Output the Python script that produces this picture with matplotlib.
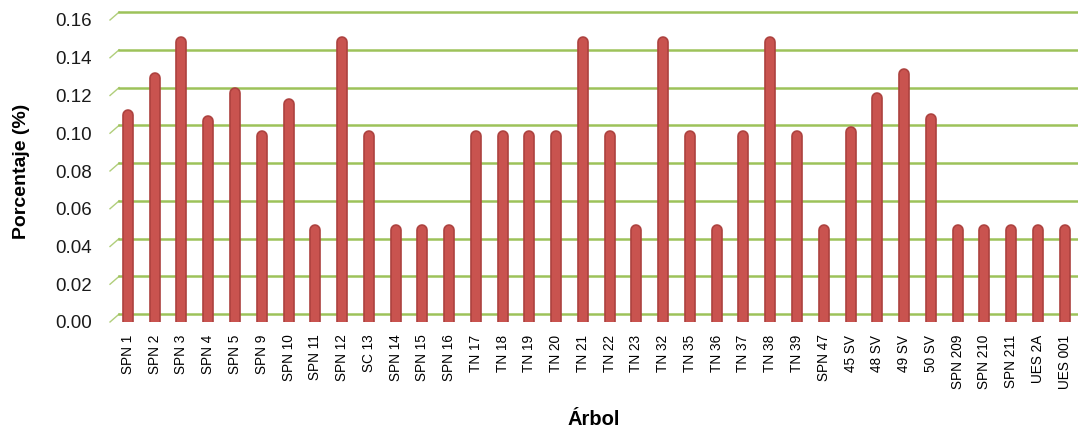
import numpy as np
import matplotlib
matplotlib.use("Agg")
import matplotlib.pyplot as plt

# Datos
arboles = ["SPN 1", "SPN 2", "SPN 3", "SPN 4", "SPN 5", "SPN 9", "SPN 10", "SPN 11",
           "SPN 12", "SC 13", "SPN 14", "SPN 15", "SPN 16", "TN 17", "TN 18", "TN 19",
           "TN 20", "TN 21", "TN 22", "TN 23", "TN 32", "TN 35", "TN 36", "TN 37",
           "TN 38", "TN 39", "SPN 47", "45 SV", "48 SV", "49 SV", "50 SV", "SPN 209",
           "SPN 210", "SPN 211", "UES 2A", "UES 001"]
porcentaje = [0.111, 0.131, 0.150, 0.108, 0.123, 0.100, 0.117, 0.050,
              0.150, 0.100, 0.050, 0.050, 0.050, 0.100, 0.100, 0.100,
              0.100, 0.150, 0.100, 0.050, 0.150, 0.100, 0.050, 0.100,
              0.150, 0.100, 0.050, 0.102, 0.120, 0.133, 0.109, 0.050,
              0.050, 0.050, 0.050, 0.050]
yticks = [0.00, 0.02, 0.04, 0.06, 0.08, 0.10, 0.12, 0.14, 0.16]

plt.rcParams['font.family'] = ['Liberation Sans', 'DejaVu Sans']

fig = plt.figure(figsize=(10.78, 4.28), dpi=100)
ax = fig.add_axes([110 / 1078, 106 / 428, 968 / 1078, 302 / 428])

x = np.arange(len(arboles))
xmin, xmax = -0.67, len(arboles) - 0.5
ax.set_xlim(xmin, xmax)
ax.set_ylim(0, 0.16)

# desplazamiento de la pared del fondo (efecto 3D)
dx, dy = 0.34, 0.0042
verde = "#9DC25A"
for v in yticks:
    ax.plot([xmin, xmin + dx], [v, v + dy], color=verde, lw=1.0, alpha=0.8,
            clip_on=False, zorder=1)
    ax.plot([xmin + dx, xmax + 1], [v + dy, v + dy], color=verde, lw=1.8,
            clip_on=False, zorder=1)

# barras cilindricas con tapa redondeada
r = 0.0015
vals = np.array(porcentaje)
ax.vlines(x, 0, vals - r, colors="#AD423F", linewidth=8.4, capstyle='round', zorder=3)
ax.vlines(x, 0, vals - r, colors="#C9534F", linewidth=6.0, capstyle='round', zorder=4)

ax.set_yticks(yticks)
ax.set_yticklabels([f"{v:.2f}" for v in yticks], fontsize=13.5, color="#1a1a1a")
ax.set_xticks(x)
ax.set_xticklabels(arboles, rotation=90, fontsize=9.8, va='top', ha='center')
ax.tick_params(axis='both', length=0)
ax.tick_params(axis='y', pad=13)
ax.tick_params(axis='x', pad=9)
for s in ax.spines.values():
    s.set_visible(False)

ax.set_ylabel("Porcentaje (%)", fontsize=14, fontweight='bold')
ax.yaxis.set_label_coords(-0.083, 0.5)
ax.set_xlabel("Árbol", fontsize=14.5, fontweight='bold')
ax.xaxis.set_label_coords(0.5, -0.29)

fig.savefig("out.png", dpi=100)
